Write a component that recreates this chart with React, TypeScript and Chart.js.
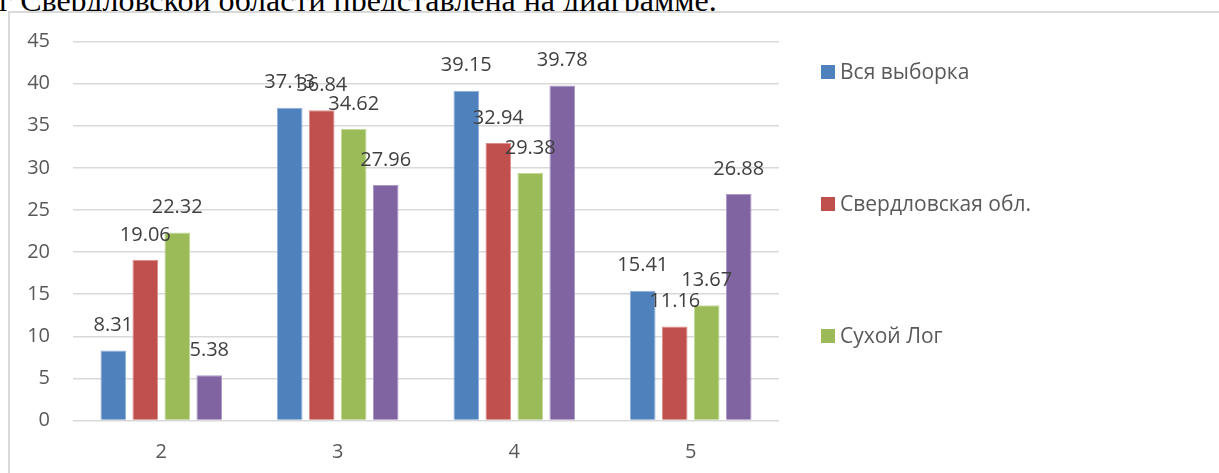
import React, { useEffect, useRef } from "react";
import { Chart, registerables } from "chart.js";

Chart.register(...registerables);

const categories = ["2", "3", "4", "5"];
const seriesNames = ["Вся выборка", "Свердловская обл.", "Сухой Лог", "Серия 4"];
const allSample = [8.31, 37.13, 39.15, 15.41];
const sverdlovsk = [19.06, 36.84, 32.94, 11.16];
const sukhoiLog = [22.32, 34.62, 29.38, 13.67];
const series4 = [5.38, 27.96, 39.78, 26.88];
const yTicks = { min: 0, max: 45, step: 5 };

const colors = ["#4F81BD", "#C0504D", "#9BBB59", "#8064A2"];
const borders = ["#8fb0d9", "#dc8f8d", "#c3d99a", "#ad98c8"];
const FONT = "'Open Sans', 'Noto Sans', sans-serif";

const labelPlugin = {
  id: "valueLabels",
  afterDatasetsDraw(chart: any) {
    const ctx = chart.ctx;
    ctx.save();
    ctx.font = `20px ${FONT}`;
    ctx.fillStyle = "#404040";
    ctx.textAlign = "center";
    ctx.textBaseline = "middle";
    chart.data.datasets.forEach((ds: any, di: number) => {
      const meta = chart.getDatasetMeta(di);
      meta.data.forEach((el: any, i: number) => {
        ctx.fillText(Number(ds.data[i]).toFixed(2), el.x, el.y - 25);
      });
    });
    ctx.restore();
  },
};

const legendPlugin = {
  id: "sideLegend",
  afterDraw(chart: any) {
    const ctx = chart.ctx;
    const opts = chart.options.plugins.sideLegend;
    ctx.save();
    ctx.font = `21px ${FONT}`;
    ctx.textAlign = "left";
    ctx.textBaseline = "middle";
    chart.data.datasets.slice(0, opts.count).forEach((ds: any, i: number) => {
      const cy = opts.top + i * opts.spacing;
      ctx.fillStyle = ds.backgroundColor;
      ctx.fillRect(opts.left, cy - 7, 14, 14);
      ctx.fillStyle = "#595959";
      ctx.fillText(ds.label, opts.left + 19, cy + 1);
    });
    ctx.restore();
  },
};

export default function App() {
  const ref = useRef<HTMLCanvasElement>(null);
  useEffect(() => {
    const values = [allSample, sverdlovsk, sukhoiLog, series4];
    const chart = new Chart(ref.current!, {
      type: "bar",
      data: {
        labels: categories,
        datasets: values.map((v, i) => ({
          label: seriesNames[i],
          data: v,
          backgroundColor: colors[i],
          borderColor: borders[i],
          borderWidth: 1,
          categoryPercentage: 0.725,
          barPercentage: 0.8,
        })),
      },
      options: {
        animation: false,
        responsive: false,
        devicePixelRatio: 1,
        layout: { padding: { left: 0, top: 28.5, right: 440, bottom: 0 } },
        plugins: {
          legend: { display: false },
          tooltip: { enabled: false },
          sideLegend: { count: 3, left: 811, top: 59, spacing: 132 },
        } as any,
        scales: {
          x: {
            grid: { display: false },
            border: { display: false },
            ticks: { color: "#595959", font: { family: FONT, size: 20 }, padding: 12 },
            afterFit: (s: any) => {
              s.height = 52.5;
              s.paddingLeft = 0;
              s.paddingRight = 0;
            },
          },
          y: {
            min: yTicks.min,
            max: yTicks.max,
            ticks: { stepSize: yTicks.step, color: "#595959", font: { family: FONT, size: 20 }, padding: 23 },
            grid: { color: "#d9d9d9", lineWidth: 1.5, drawTicks: false },
            border: { display: false },
            afterFit: (s: any) => {
              s.width = 63;
              s.paddingTop = 0;
              s.paddingBottom = 0;
            },
          },
        },
      },
      plugins: [labelPlugin, legendPlugin],
    });
    return () => chart.destroy();
  }, []);

  return (
    <div style={{ position: "fixed", left: 0, top: 0, width: 1219, height: 473, overflow: "hidden", background: "#fff" }}>
      <div
        style={{
          position: "absolute",
          left: -1,
          top: -18,
          whiteSpace: "nowrap",
          fontFamily: "'Liberation Serif', 'Times New Roman', serif",
          fontSize: 32,
          lineHeight: "36px",
          color: "#000",
        }}
      >
        г Свердловской области представлена на диаграмме.
      </div>
      <div
        style={{
          position: "absolute",
          left: 8,
          top: 11,
          width: 1300,
          height: 600,
          borderLeft: "2px solid #d9d9d9",
          borderTop: "2px solid #d9d9d9",
          background: "#fff",
        }}
      />
      <canvas ref={ref} width={1209} height={460} style={{ position: "absolute", left: 10, top: 13 }} />
    </div>
  );
}
